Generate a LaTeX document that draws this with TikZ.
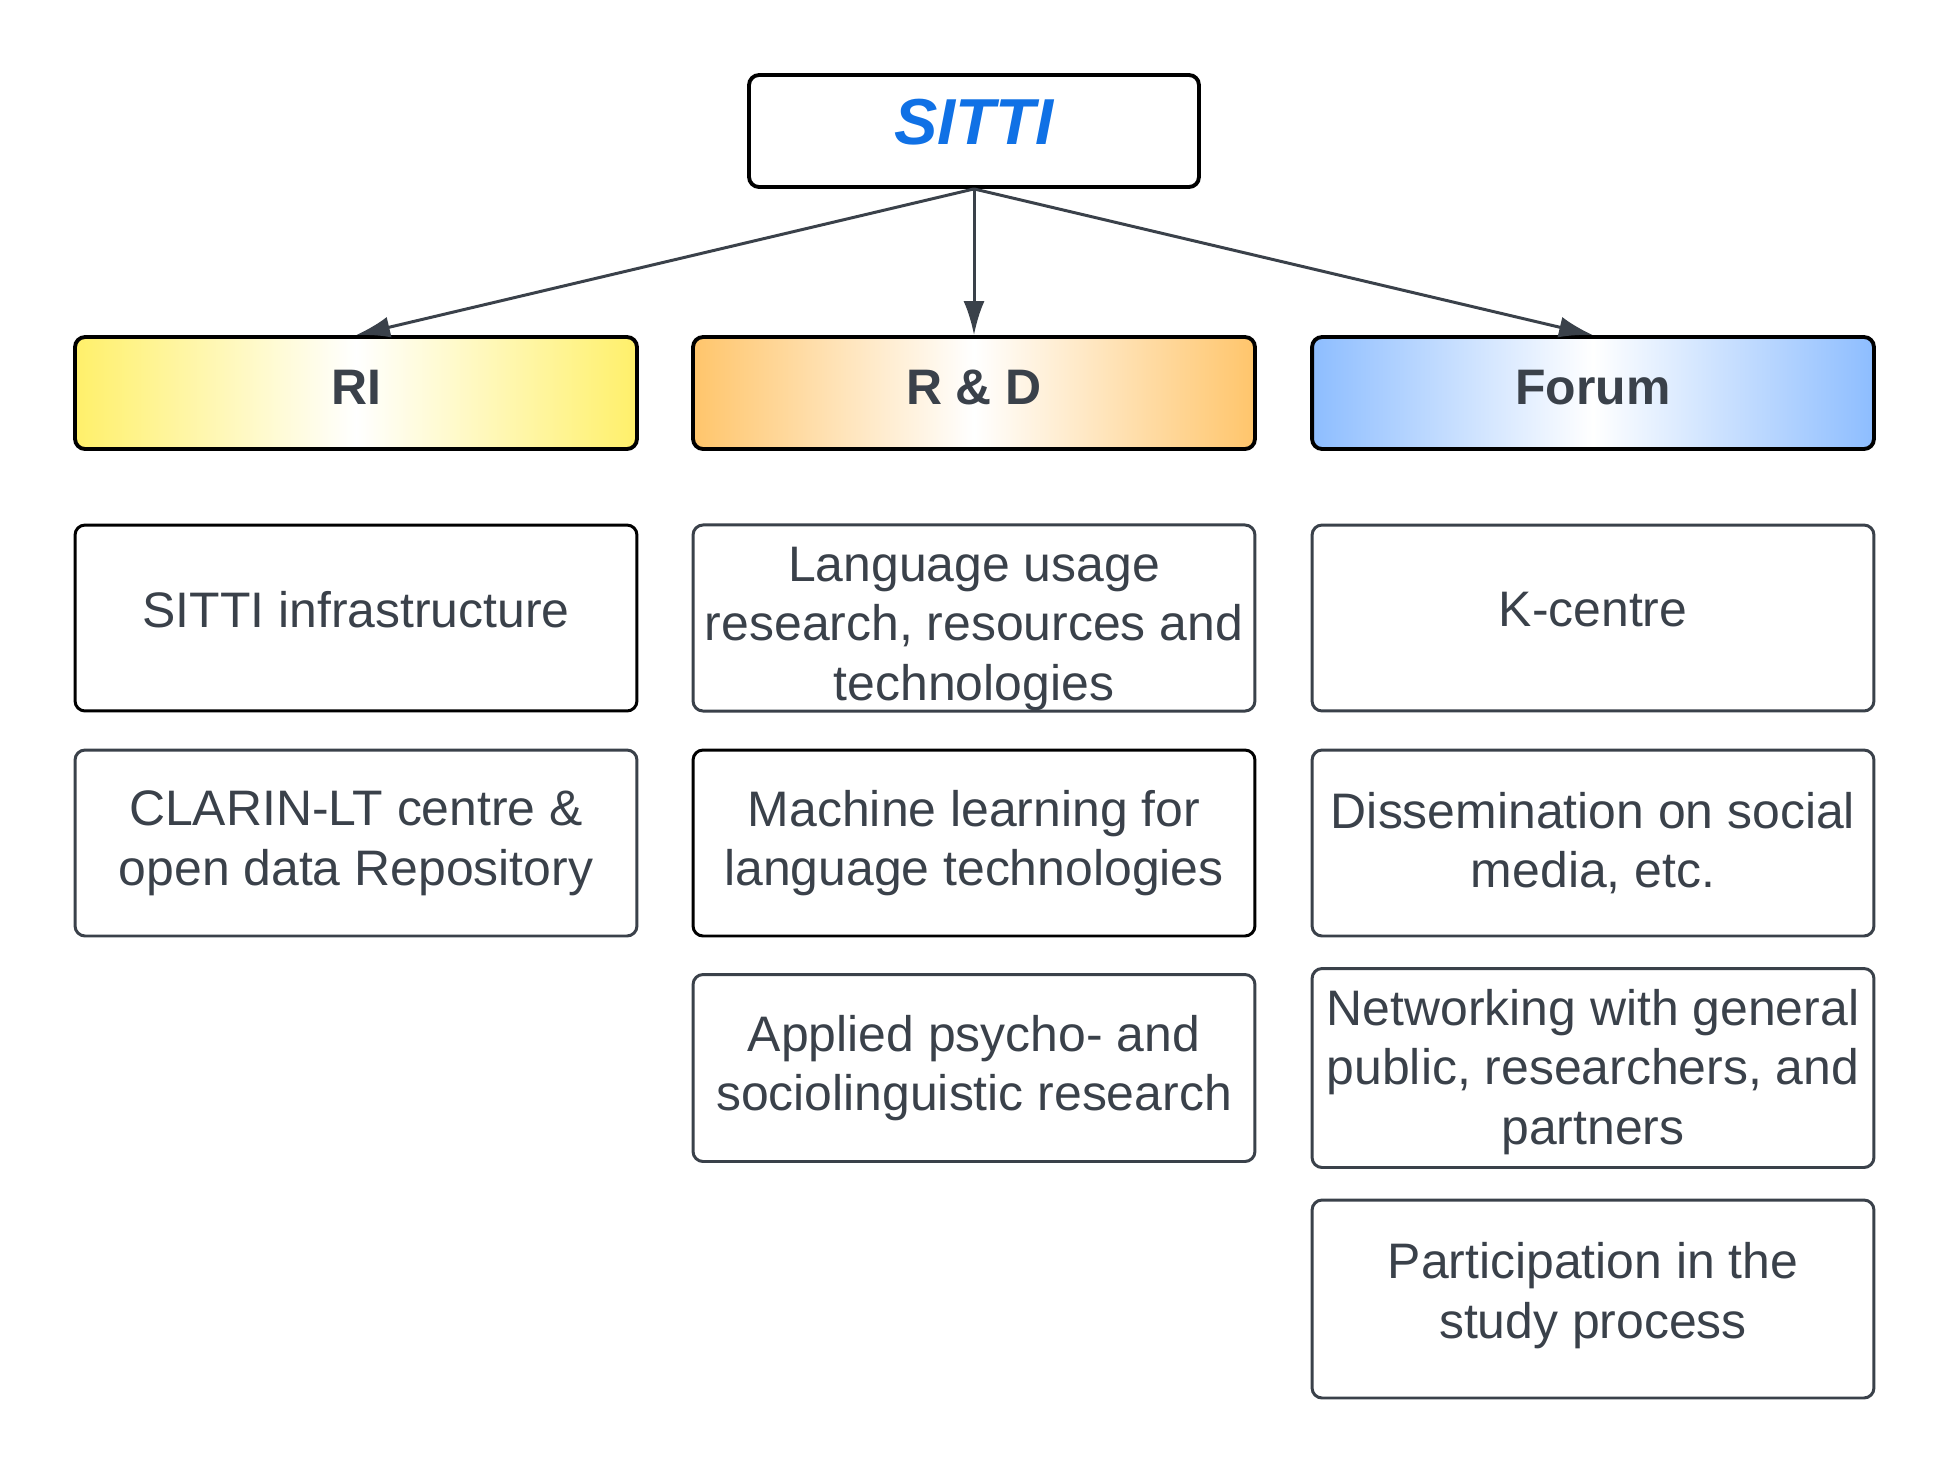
\documentclass[tikz,border=0pt]{standalone}
\usepackage{fontspec}
\setmainfont{Liberation Sans}
\usepackage{tikz}
\usetikzlibrary{arrows.meta}
\definecolor{inkgray}{HTML}{3A414A}
\definecolor{sittiblue}{HTML}{1071E5}
\definecolor{riyellow}{HTML}{FFF06A}
\definecolor{rdorange}{HTML}{FFC56B}
\definecolor{forumblue}{HTML}{8DBDFF}
\tikzstyle{box} = [draw=inkgray,line width=1.7pt,rounded corners=0.2cm,inner sep=0pt,align=center,text=inkgray,minimum width=11.24cm,font=\fontsize{28.4}{34}\selectfont]
\tikzstyle{item} = [box,minimum height=3.72cm]
\tikzstyle{keyitem} = [item,draw=black]
\tikzstyle{tier} = [box,draw=black,line width=2.2pt,minimum height=2.24cm,text depth=6pt,font=\fontsize{28.4}{34}\selectfont\bfseries]
\tikzstyle{link} = [draw=inkgray,line width=1.7pt,-{Latex[length=0.68cm,width=0.42cm]}]

\begin{document}
\begin{tikzpicture}[x=0.02cm,y=-0.02cm]
    \useasboundingbox (0,0) rectangle (1950,1474);

    \node[box,draw=black,line width=2.2pt,minimum width=9cm,minimum height=2.24cm,text depth=11pt,text=sittiblue,font=\fontsize{37}{44}\selectfont\bfseries\itshape] (sitti) at (974,131) {SITTI};

    \node[tier,left color=riyellow,right color=riyellow,middle color=white] (ri) at (356,393) {RI};
    \node[tier,left color=rdorange,right color=rdorange,middle color=white] (rd) at (974,393) {R \& D};
    \node[tier,left color=forumblue,right color=forumblue,middle color=white] (forum) at (1593,393) {Forum};

    \node[keyitem,text depth=10pt] (ri1) at (356,618) {SITTI infrastructure};
    \node[item] (ri2) at (356,843) {CLARIN-LT centre \&\\open data Repository};

    \node[item] (rd1) at (974,618) {\rule{0pt}{32pt}Language usage\\research, resources and\\technologies};
    \node[keyitem] (rd2) at (974,843) {Machine learning for\\language technologies};
    \node[item,minimum height=3.74cm] (rd3) at (974,1068) {Applied psycho- and\\sociolinguistic research};

    \node[item,text depth=10pt] (fo1) at (1593,618) {K-centre};
    \node[item] (fo2) at (1593,843) {Dissemination on social\\media, etc.};
    \node[item,minimum height=3.98cm] (fo3) at (1593,1068) {\rule{0pt}{25pt}Networking with general\\public, researchers, and\\partners};
    \node[item,minimum height=3.96cm] (fo4) at (1593,1299) {Participation in the\\study process\rule[-10pt]{0pt}{0pt}};

    \draw[link] (sitti.south) -- (ri.north);
    \draw[link] (sitti.south) -- (rd.north);
    \draw[link] (sitti.south) -- (forum.north);

\end{tikzpicture}
\end{document}
